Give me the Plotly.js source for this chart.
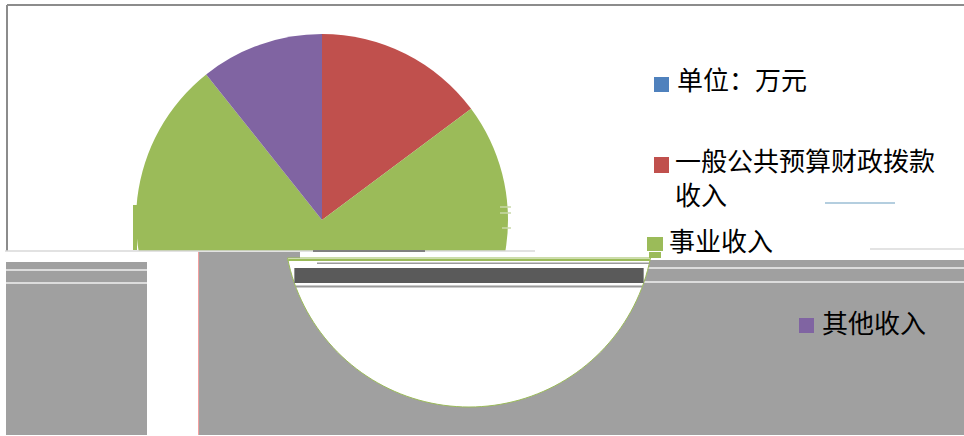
<!DOCTYPE html>
<html>
<head>
<meta charset="utf-8">
<script src="https://cdn.plot.ly/plotly-3.0.1.min.js"></script>
<style>html,body{margin:0;padding:0;background:#fff;}#chart{width:964px;height:436px;}</style>
</head>
<body>
<div id="chart"></div>
<script>
// ---- data ----
const categories = ["单位：万元", "一般公共预算财政拨款收入", "事业收入", "其他收入"];
const values = [0, 148, 745, 107];
const colors = ["#4f81bd", "#c0504d", "#9bbb59", "#8064a2"];

// ---- helpers (pixel -> paper) ----
const W = 964, H = 436;
const px = x => x / W;
const py = y => 1 - y / H;
function rect(x0, y0, x1, y1, fill, extra) {
  return Object.assign({type: "rect", xref: "paper", yref: "paper", layer: "above",
    x0: px(x0), x1: px(x1), y0: py(y1), y1: py(y0), fillcolor: fill, line: {width: 0}}, extra || {});
}
function hline(x0, x1, y, color, w) {
  return {type: "line", xref: "paper", yref: "paper", layer: "above",
    x0: px(x0), x1: px(x1), y0: py(y), y1: py(y), line: {color: color, width: w}};
}
function vline(x, y0, y1, color, w) {
  return {type: "line", xref: "paper", yref: "paper", layer: "above",
    x0: px(x), x1: px(x), y0: py(y0), y1: py(y1), line: {color: color, width: w}};
}

// displaced lower half-disc (rendering glitch of the original)
const dcx = 469, dcy = 222, dr = 185, dTop = 258;
const halfW = y => Math.sqrt(Math.max(0, dr * dr - (y - dcy) * (y - dcy)));
function discPath() {
  const a0 = Math.asin((dTop - dcy) / dr);
  const a1 = Math.PI - a0;
  let d = "";
  const n = 80;
  for (let i = 0; i <= n; i++) {
    const a = a0 + (a1 - a0) * i / n;
    const x = dcx + dr * Math.cos(a), y = dcy + dr * Math.sin(a);
    d += (i === 0 ? "M" : "L") + px(x).toFixed(5) + "," + py(y).toFixed(5);
  }
  return d + "Z";
}
function discBand(y0, y1, color) {
  const hw = Math.min(halfW(y0), halfW(y1));
  return rect(dcx - hw, y0, dcx + hw, y1, color);
}

const gray = "#a0a0a0";
const shapes = [
  // cover lower area
  rect(0, 251, 964, 436, "#ffffff"),
  // left gray block with stripes
  rect(6, 262, 147, 435, gray),
  hline(6, 147, 270, "#f0f0f0", 1.5),
  hline(6, 147, 283, "#f0f0f0", 1.5),
  // main gray block
  rect(198, 260, 964, 435, gray),
  rect(198, 252, 300, 260, gray),
  hline(640, 964, 268, "#f0f0f0", 1.5),
  hline(640, 964, 282, "#f0f0f0", 1.5),
  vline(198.5, 252, 435, "#f2a0a0", 1),
  // white disc
  {type: "path", xref: "paper", yref: "paper", layer: "above", path: discPath(),
   fillcolor: "#ffffff", line: {color: "#9bbb59", width: 1}},
  discBand(259, 261, "#9bbb59"),
  rect(317, 262.5, dcx + halfW(264), 264, "#9a9a9a"),
  discBand(268, 283, "#5a5a5a"),
  discBand(285.5, 287.5, "#9a9a9a"),
  // frame
  hline(7, 964, 5, "#8c8c8c", 2),
  vline(7, 5, 251, "#8c8c8c", 2),
  hline(5, 535, 251, "#d8d8d8", 1.5),
  hline(313, 425, 251, "#808080", 2),
  // stray artifacts
  hline(825, 895, 203, "#6a9ec0", 1.2),
  hline(870, 964, 249, "#c8c8c8", 1.2),
  hline(500, 511, 207, "#c9d9a8", 1.5),
  hline(500, 511, 213, "#c9d9a8", 1.5),
  hline(502, 511, 228, "#c9d9a8", 1.5),
  rect(133, 205, 137, 250, "#9bbb59"),
  // legend markers
  rect(654, 77, 669, 92, colors[0]),
  rect(654, 157, 669, 173, colors[1]),
  rect(647, 237, 663, 251, colors[2]),
  rect(649, 252, 661, 258, colors[2]),
  rect(799, 318, 814, 333, colors[3])
];

function wrap(s, n) {
  return s.length > n ? s.slice(0, n) + "<br>" + s.slice(n) : s;
}
const legendPos = [[676, 79], [674, 176], [668, 239], [821, 321]];
const font = {family: "Noto Sans CJK SC, sans-serif", size: 26, color: "#000"};
const annotations = categories.map((c, i) => ({
  xref: "paper", yref: "paper", x: px(legendPos[i][0]), y: py(legendPos[i][1]),
  xanchor: "left", yanchor: "middle", align: "left", showarrow: false,
  text: wrap(c, 10), font: font, borderpad: 0
}));

const cx = 322, cy = 220, r = 186;
const trace = {
  type: "pie", labels: categories, values: values, sort: false,
  direction: "clockwise", rotation: 0, textinfo: "none", hoverinfo: "label+value",
  marker: {colors: colors, line: {width: 0}},
  domain: {x: [px(cx - r), px(cx + r)], y: [py(cy + r), py(cy - r)]},
  showlegend: false
};

Plotly.newPlot("chart", [trace], {
  width: W, height: H, margin: {l: 0, r: 0, t: 0, b: 0},
  paper_bgcolor: "#ffffff", plot_bgcolor: "#ffffff",
  showlegend: false, shapes: shapes, annotations: annotations
}, {displayModeBar: false, staticPlot: true});
</script>
</body>
</html>
